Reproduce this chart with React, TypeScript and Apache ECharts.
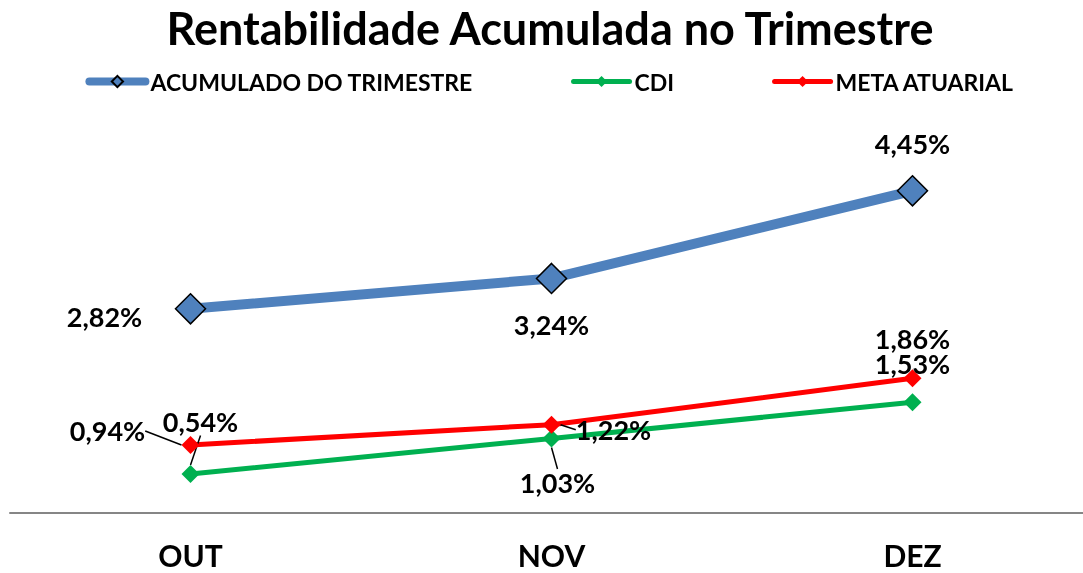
import React, { useEffect, useRef } from "react";
import * as echarts from "echarts";

const categories = ["OUT", "NOV", "DEZ"];
const acumulado = [2.82, 3.24, 4.45];
const cdi = [0.54, 1.03, 1.53];
const meta = [0.94, 1.22, 1.86];
const seriesNames = ["ACUMULADO DO TRIMESTRE", "CDI", "META ATUARIAL"];

// label offsets (px) from the point, per series / data index
const labelOffsets = [
  [[-86, 8], [0, 46], [0, -47]],
  [[10, -52], [6, 44], [0, -39]],
  [[-83, -14], [62, 5], [0, -40]],
];
const leaderLines = [
  [false, false, false],
  [true, true, false],
  [true, true, false],
];

const FONT = "Lato";

export default function App() {
  const ref = useRef<HTMLDivElement>(null);
  useEffect(() => {
    if (!ref.current) return;
    const chart = echarts.init(ref.current, undefined, { renderer: "svg" });
    const fmt = (p: any) => p.value.toFixed(2).replace(".", ",") + "%";
    const mk = (vals: number[], si: number) =>
      vals.map((v, i) => ({
        value: v,
        labelLine: { show: leaderLines[si][i], lineStyle: { color: "#000", width: 1.5 } },
      }));
    const labelBase = {
      show: true,
      position: "inside",
      formatter: fmt,
      color: "#000",
      fontFamily: FONT,
      fontWeight: "bold",
      fontSize: 27,
    };
    chart.setOption({
      animation: false,
      title: {
        text: "Rentabilidade Acumulada no Trimestre",
        left: "center",
        top: 0,
        textStyle: { fontFamily: FONT, fontWeight: "bold", fontSize: 45, color: "#000" },
      },
      legend: {
        top: 65,
        left: "center",
        itemWidth: 56,
        itemHeight: 14,
        itemGap: 98,
        textStyle: { fontFamily: FONT, fontWeight: "bold", fontSize: 23, color: "#000" },
        data: [
          { name: seriesNames[0], lineStyle: { width: 8, cap: "round" } },
          { name: seriesNames[1], lineStyle: { width: 5, cap: "round" } },
          { name: seriesNames[2], lineStyle: { width: 5, cap: "round" } },
        ],
      },
      grid: { left: 10, right: 7, top: 151, height: 362 },
      xAxis: {
        type: "category",
        data: categories,
        boundaryGap: true,
        axisLine: { lineStyle: { color: "#868686", width: 2 } },
        axisTick: { show: false },
        axisLabel: {
          margin: 27,
          color: "#000",
          fontFamily: FONT,
          fontWeight: "bold",
          fontSize: 30,
        },
      },
      yAxis: {
        type: "value",
        min: 0,
        max: 5,
        show: false,
        splitLine: { show: false },
      },
      labelLayout: (params: any) => {
        const o = labelOffsets[params.seriesIndex][params.dataIndex];
        return { dx: o[0], dy: o[1] };
      },
      series: [
        {
          name: seriesNames[0],
          type: "line",
          data: mk(acumulado, 0),
          symbol: "diamond",
          symbolSize: 30,
          lineStyle: { color: "#4F81BD", width: 10 },
          itemStyle: { color: "#4F81BD", borderColor: "#000", borderWidth: 1.5 },
          label: labelBase,
          z: 3,
        },
        {
          name: seriesNames[1],
          type: "line",
          data: mk(cdi, 1),
          symbol: "diamond",
          symbolSize: 18,
          lineStyle: { color: "#00B050", width: 5 },
          itemStyle: { color: "#00B050" },
          label: labelBase,
          z: 2,
        },
        {
          name: seriesNames[2],
          type: "line",
          data: mk(meta, 2),
          symbol: "diamond",
          symbolSize: 18,
          lineStyle: { color: "#FF0000", width: 5 },
          itemStyle: { color: "#FF0000" },
          label: labelBase,
          z: 2,
        },
      ],
    });
    return () => chart.dispose();
  }, []);
  return (
    <div
      ref={ref}
      style={{ position: "fixed", left: 0, top: 0, width: 1100, height: 573 }}
    />
  );
}
